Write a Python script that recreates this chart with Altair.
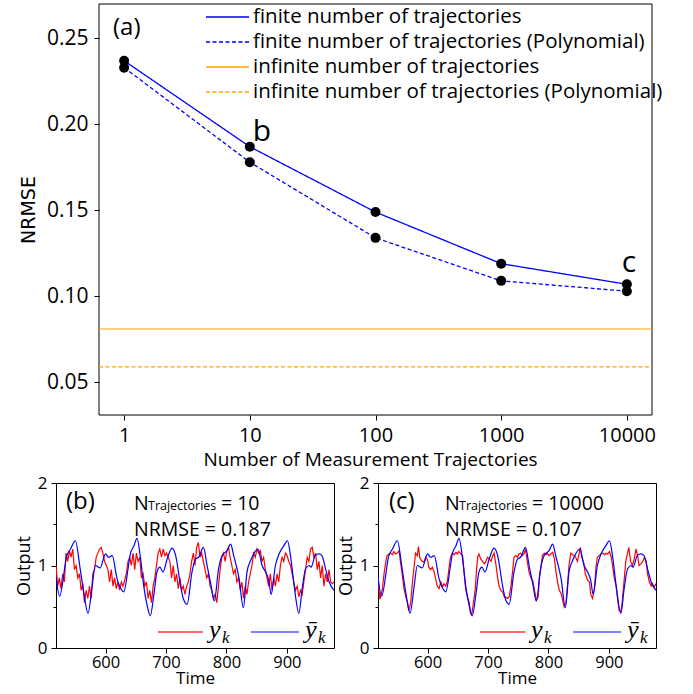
import altair as alt
import pandas as pd
import numpy as np

# ---------------- data: panel (a) ----------------
n_traj = [1, 10, 100, 1000, 10000]
nrmse_finite = [0.237, 0.187, 0.149, 0.119, 0.107]
nrmse_finite_poly = [0.233, 0.178, 0.134, 0.109, 0.103]
nrmse_inf = [0.081]
nrmse_inf_poly = [0.059]
series_names = [
    "finite number of trajectories",
    "finite number of trajectories (Polynomial)",
    "infinite number of trajectories",
    "infinite number of trajectories (Polynomial)",
]
series_colors = ["#0000ff", "#0000ff", "#ffa500", "#ffa500"]
series_dashes = [[1, 0], [4, 2.5], [1, 0], [4, 2.5]]
point_labels = ["b", "c"]
point_label_n = [10, 10000]
point_label_y = [0.187, 0.107]

# ---------------- data: panels (b), (c) ----------------
ybar_time = [518, 524, 536, 542, 550, 558, 564, 571, 578, 583, 591, 600, 605, 611,
             619, 627, 630, 638, 641, 647, 652, 658, 663, 669, 674, 680, 685, 690,
             695, 702, 710, 716, 724, 729, 735, 743, 749, 754, 762, 768, 774, 780,
             787, 793, 801, 807, 812, 821, 828, 834, 840, 845, 852, 859, 865, 870,
             874, 881, 887, 895, 901, 906, 912, 920, 925, 931, 937, 940, 947, 953,
             958, 964, 970, 978]
ybar_value = [0.86, 0.63, 1.12, 1.20, 1.30, 0.96, 0.67, 0.42, 0.76, 1.00, 0.97, 1.14, 1.10, 1.12,
              0.84, 0.70, 0.68, 1.00, 1.14, 1.24, 1.33, 1.08, 0.76, 0.51, 0.39, 0.65, 0.92, 0.98,
              0.92, 1.08, 1.21, 1.12, 0.76, 0.59, 0.53, 0.92, 1.08, 1.10, 1.22, 1.00, 0.78, 0.57,
              0.96, 1.12, 1.18, 1.26, 1.12, 0.84, 0.49, 0.92, 1.06, 1.14, 1.20, 1.00, 0.92, 0.82,
              0.65, 1.00, 1.14, 1.24, 1.30, 1.12, 0.76, 0.42, 0.70, 0.96, 1.00, 0.98, 1.12, 1.14,
              1.12, 0.96, 0.80, 0.70]

yk_b_value = [1.0, 0.75, 0.85, 0.72, 0.9, 0.8, 1.15, 1.05, 1.18, 1.1, 1.2, 0.95, 1.0, 0.85,
              0.9, 0.7, 0.78, 0.55, 0.7, 0.6, 0.75, 0.6, 0.9, 0.95, 1.1, 1.15, 1.2, 1.22, 1.15,
              1.05, 1.0, 0.95, 0.8, 0.95, 0.75, 0.85, 0.72, 0.8, 0.7, 0.8, 0.75, 0.82, 0.9, 1.05,
              1.1, 1.0, 1.15, 0.95, 1.15, 1.05, 1.1, 0.85, 0.9, 0.75, 0.8, 0.6, 0.7, 0.55, 0.75,
              0.85, 1.0, 1.15, 1.2, 1.1, 1.2, 1.12, 1.15, 1.1, 1.05, 0.85, 1.0, 0.8, 0.9, 0.72,
              0.85, 0.7, 0.75, 0.65, 0.75, 0.8, 0.9, 1.05, 1.15, 1.0, 1.22, 1.28, 1.1, 1.15, 1.05,
              0.95, 0.85, 0.9, 0.75, 0.7, 0.6, 0.65, 0.55, 0.75, 0.95, 1.1, 1.15, 1.05, 1.18, 1.22,
              1.1, 1.0, 0.9, 0.95, 0.8, 0.85, 0.7, 0.8, 0.6, 0.75, 0.65, 0.8, 0.9, 1.0, 1.15, 1.1,
              1.2, 1.15, 1.18, 1.05, 1.1, 0.95, 0.85, 0.75, 0.9, 0.7, 0.85, 0.75, 0.9, 0.8, 1.0,
              1.1, 1.05, 1.15, 1.12, 1.05, 1.0, 0.9, 0.8, 0.7, 0.75, 0.62, 0.7, 0.65, 0.8, 0.95,
              1.1, 1.05, 1.2, 1.22, 1.1, 1.15, 0.95, 1.05, 0.85, 1.0, 0.75, 0.9, 0.8, 0.95, 0.8,
              0.78, 0.8]
yk_b_time = list(np.linspace(518, 978, len(yk_b_value)))

yk_c_time = [518, 521, 525, 528, 531, 533, 536, 539, 542, 544, 547, 550, 553, 555, 557, 561,
             564, 567, 569, 572, 575, 578, 580, 583, 585, 587, 590, 594, 597, 600, 602, 605,
             608, 611, 614, 616, 619, 622, 625, 627, 630, 633, 636, 638, 641, 644, 647, 649,
             652, 655, 658, 660, 663, 666, 669, 671, 673, 675, 679, 681, 683, 685, 688, 691,
             694, 696, 699, 702, 705, 707, 710, 713, 716, 718, 721, 724, 727, 729, 732, 735,
             738, 741, 743, 746, 749, 751, 754, 757, 760, 762, 765, 768, 771, 774, 777, 780,
             783, 785, 788, 790, 793, 796, 798, 801, 804, 807, 810, 812, 815, 818, 821, 823,
             826, 829, 832, 834, 837, 840, 843, 845, 848, 851, 853, 855, 858, 861, 865, 868,
             870, 873, 876, 879, 881, 884, 887, 890, 893, 895, 898, 901, 904, 906, 909, 912,
             914, 917, 920, 922, 925, 928, 931, 933, 936, 939, 942, 945, 948, 950, 953, 956,
             959, 962, 964, 967, 970, 972, 975, 978]
yk_c_value = [0.86, 0.59, 0.7, 0.9, 1.05, 1.12, 1.14, 1.15, 1.13, 1.17, 1.14, 1.15, 1.18, 1.05,
              0.95, 0.72, 0.62, 0.55, 0.45, 0.55, 0.8, 1.0, 1.15, 1.12, 1.23, 1.1, 1.06, 1.04,
              1.1, 1.07, 0.98, 0.95, 0.98, 0.92, 0.82, 0.75, 0.72, 0.8, 0.74, 0.78, 0.75, 0.82,
              1.0, 1.1, 1.15, 1.13, 1.16, 1.14, 1.17, 1.14, 1.12, 0.95, 0.72, 0.62, 0.55, 0.42,
              0.4, 0.5, 0.72, 0.95, 1.1, 1.14, 1.08, 1.05, 1.02, 1.04, 1.1, 1.08, 1.05, 1.1,
              1.15, 1.02, 0.85, 0.76, 0.7, 0.68, 0.62, 0.62, 0.6, 0.62, 0.75, 0.95, 1.1, 1.12,
              1.1, 1.14, 1.15, 1.12, 1.15, 1.2, 1.05, 0.92, 0.85, 0.82, 0.7, 0.58, 0.62, 0.85,
              1.0, 1.12, 1.15, 1.13, 1.15, 1.12, 1.14, 1.16, 1.08, 0.95, 0.8, 0.7, 0.66, 0.6,
              0.5, 0.55, 0.8, 1.0, 1.15, 1.13, 1.12, 1.1, 1.05, 1.15, 1.22, 1.1, 1.05, 0.9,
              0.82, 0.8, 0.65, 0.6, 0.72, 1.0, 1.1, 1.12, 1.14, 1.15, 1.13, 1.15, 1.14, 1.17,
              1.1, 1.0, 0.85, 0.75, 0.62, 0.45, 0.44, 0.55, 0.8, 1.05, 1.15, 1.22, 1.05, 1.0,
              1.08, 1.2, 1.1, 1.0, 1.02, 1.05, 1.1, 1.05, 0.9, 0.8, 0.75, 0.78, 0.74, 0.78]

BLUE = "#0000ff"
RED = "#ff0000"
FONT = "Open Sans"

# layout of panel (a): the unit view starts where panel (b) starts; the visible frame is shifted
SHIFT = 43
TOP_W = 596
TOP_H = 411

# ---------------- panel (a) ----------------
line_df = pd.DataFrame({
    "n": n_traj * 2,
    "nrmse": nrmse_finite + nrmse_finite_poly,
    "series": [series_names[0]] * 5 + [series_names[1]] * 5,
})
rule_df = pd.DataFrame({
    "nrmse": nrmse_inf + nrmse_inf_poly,
    "series": [series_names[2], series_names[3]],
})
lab_df = pd.DataFrame({"n": point_label_n, "nrmse": point_label_y, "lab": point_labels})

color_a = alt.Color("series:N", scale=alt.Scale(domain=series_names, range=series_colors),
                    legend=None)
dash_a = alt.StrokeDash("series:N", scale=alt.Scale(domain=series_names, range=series_dashes),
                        legend=None)

x_a = alt.X("n:Q", scale=alt.Scale(type="log", domain=[10 ** -0.2, 10 ** 4.2], nice=False,
                                   range=[SHIFT, TOP_W]),
            axis=alt.Axis(values=n_traj, format="d", title="Number of Measurement Trajectories",
                          labelFontSize=20, titleFontSize=19, titleFont=FONT, labelFont=FONT,
                          labelPadding=5, titlePadding=5, titleFontWeight="normal",
                          titleX=314, titleAlign="center"))
y_a = alt.Y("nrmse:Q", scale=alt.Scale(domain=[0.031, 0.27], nice=False, zero=False),
            axis=alt.Axis(values=[0.05, 0.10, 0.15, 0.20, 0.25], format=".2f", title="NRMSE",
                          labelFontSize=21, titleFontSize=19, titleFont="DejaVu Sans",
                          labelFont=FONT, labelPadding=6, titlePadding=8, offset=-SHIFT,
                          titleFontWeight="normal"))

one = pd.DataFrame({"k": [0]})
frame_a = alt.Chart(one).mark_rect(filled=False, stroke="black", strokeWidth=1).encode(
    x=alt.value(SHIFT), x2=alt.value(TOP_W), y=alt.value(0), y2=alt.value(TOP_H))
lines_a = alt.Chart(line_df).mark_line(strokeWidth=1.3).encode(
    x=x_a, y=y_a, color=color_a, strokeDash=dash_a, detail="series:N")
rules_a = alt.Chart(rule_df).mark_rule(strokeWidth=1.1).encode(
    x=alt.value(SHIFT), x2=alt.value(TOP_W),
    y="nrmse:Q", color=color_a, strokeDash=dash_a)
points_a = alt.Chart(line_df).mark_circle(color="black", size=100, opacity=1).encode(
    x="n:Q", y="nrmse:Q")
label_b = alt.Chart(lab_df).transform_filter(alt.datum.lab == "b").mark_text(
    fontSize=30, font=FONT, align="left", baseline="middle", dx=3, dy=-15, color="black"
).encode(x="n:Q", y="nrmse:Q", text="lab:N")
label_c = alt.Chart(lab_df).transform_filter(alt.datum.lab == "c").mark_text(
    fontSize=30, font=FONT, align="center", baseline="middle", dx=2, dy=-21, color="black"
).encode(x="n:Q", y="nrmse:Q", text="lab:N")

tag_a = alt.Chart(one).mark_text(
    fontSize=24, font=FONT, align="left", baseline="middle", color="black").encode(
    x=alt.value(SHIFT + 14), y=alt.value(24), text=alt.value("(a)"))

# hand-drawn legend of panel (a)
legend_layers = []
for i, name in enumerate(series_names):
    yy = 13 + 25 * i
    legend_layers.append(alt.Chart(one).mark_rule(
        color=series_colors[i], strokeDash=series_dashes[i], strokeWidth=1.3).encode(
        x=alt.value(SHIFT + 107), x2=alt.value(SHIFT + 150), y=alt.value(yy)))
    legend_layers.append(alt.Chart(one).mark_text(
        fontSize=20.5, font=FONT, align="left", baseline="middle", color="black").encode(
        x=alt.value(SHIFT + 154), y=alt.value(yy), text=alt.value(name)))

top = alt.layer(frame_a, rules_a, lines_a, points_a, label_b, label_c, tag_a,
                *legend_layers).properties(width=TOP_W, height=TOP_H,
                                           view=alt.ViewBackground(stroke="transparent"))


# ---------------- panels (b), (c) ----------------
def panel(yk_time, yk_value, tag, n_text, nrmse_text, n_x, tag_x):
    df_red = pd.DataFrame({"t": yk_time, "v": yk_value})
    df_blue = pd.DataFrame({"t": ybar_time, "v": ybar_value})
    xs = alt.X("t:Q", scale=alt.Scale(domain=[518, 978], nice=False, zero=False),
               axis=alt.Axis(values=[600, 700, 800, 900], title="Time", labelFontSize=16.5,
                             titleFontSize=17, labelFont=FONT, titleFont=FONT,
                             titleFontWeight="normal", labelPadding=1, titlePadding=0))
    ys = alt.Y("v:Q", scale=alt.Scale(domain=[0, 2], nice=False),
               axis=alt.Axis(values=[0, 0.25, 0.5, 0.75, 1, 1.25, 1.5, 1.75, 2],
                             labelExpr="datum.value % 1 == 0 ? format(datum.value, 'd') : ''",
                             tickSize={"condition": {"test": "datum.value % 1 != 0", "value": 3},
                                       "value": 5},
                             title="Output", labelFontSize=17, titleFontSize=18,
                             labelFont=FONT, titleFont=FONT, titleFontWeight="normal",
                             labelPadding=4, titlePadding=4))
    red = alt.Chart(df_red).mark_line(color=RED, strokeWidth=1.2, clip=True).encode(x=xs, y=ys)
    blue = alt.Chart(df_blue).mark_line(color=BLUE, strokeWidth=1.2, interpolate="monotone",
                                        clip=True).encode(x="t:Q", y="v:Q")

    def txt(s, x, y, size, font=FONT, style="normal", baseline="alphabetic"):
        return alt.Chart(one).mark_text(fontSize=size, font=font, fontStyle=style, align="left",
                                        baseline=baseline, color="black").encode(
            x=alt.value(x), y=alt.value(y), text=alt.value(s))

    texts = [
        txt(tag, tag_x, 19, 24, baseline="middle"),
        txt("N", n_x, 27, 19.5),
        txt("Trajectories", n_x + 14, 27, 12.5),
        txt("= " + n_text, n_x + 87, 27, 19.5),
        txt("NRMSE = " + nrmse_text, n_x, 53, 19.5),
        txt("y", 153, 155, 26, font="Liberation Serif", style="italic"),
        txt("k", 166, 160, 17, font="Liberation Serif", style="italic"),
        txt("\u0233", 249, 155, 26, font="Liberation Serif", style="italic"),
        txt("k", 262, 160, 17, font="Liberation Serif", style="italic"),
    ]
    leg_red = alt.Chart(one).mark_rule(color=RED, strokeWidth=1.5, opacity=0.8).encode(
        x=alt.value(102), x2=alt.value(147), y=alt.value(149))
    leg_blue = alt.Chart(one).mark_rule(color=BLUE, strokeWidth=1.2).encode(
        x=alt.value(195), x2=alt.value(243), y=alt.value(149))
    return alt.layer(red, blue, leg_red, leg_blue, *texts).properties(
        width=278, height=165, view=alt.ViewBackground(stroke="black", strokeWidth=1))


pb = panel(yk_b_time, yk_b_value, "(b)", "10", "0.187", 78, 10)
pc = panel(yk_c_time, yk_c_value, "(c)", "10000", "0.107", 67, 11)
bottom = alt.hconcat(pb, pc, spacing=1)

chart = alt.vconcat(top, bottom, spacing=3).configure_view(
    stroke="black", strokeWidth=1
).configure_axis(
    domain=False, grid=False, tickColor="black", labelColor="black", titleColor="black",
    tickSize=5
).properties(padding={"left": 14, "top": 3, "right": 5, "bottom": 5})

chart.save("out.html", embed_options={"renderer": "svg", "actions": False})
